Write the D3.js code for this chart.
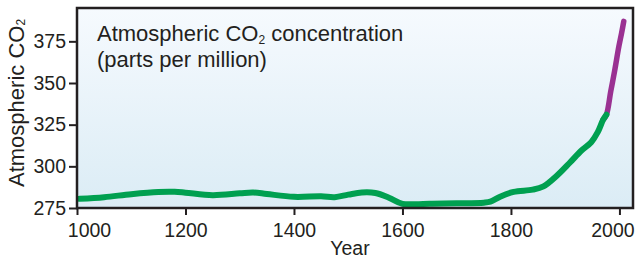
<!DOCTYPE html>
<html>
<head>
<meta charset="utf-8">
<script src="https://cdn.jsdelivr.net/npm/d3@7"></script>
<style>
  body { margin: 0; background: #fff; }
  text { font-family: "Liberation Sans", Arial, sans-serif; fill: #231f20; }
</style>
</head>
<body>
<div id="chart"></div>
<script>
// ice core record (year, ppm)
var iceYears = [1005, 1050, 1100, 1150, 1180, 1200, 1250, 1300, 1325, 1350, 1400, 1450, 1475, 1500,
                1525, 1550, 1575, 1600, 1625, 1650, 1700, 1750, 1762, 1780, 1805, 1840, 1860, 1885,
                1908, 1930, 1948, 1960, 1970, 1976];
var iceCO2 = [280.5, 281.5, 283.3, 284.6, 284.7, 284.2, 282.7, 283.8, 284.3, 283.4, 281.7, 282.0, 281.5, 283.0,
              284.3, 284.0, 281.2, 277.5, 277.3, 277.6, 277.8, 278.2, 278.8, 281.8, 284.7, 286.0, 288.0, 294.5,
              302.0, 309.5, 314.5, 320.5, 328.0, 331.0];
// direct measurements
var airYears = [1970, 1976, 1984, 1991, 1999, 2004, 2008];
var airCO2 = [328, 331, 345, 357, 372, 380, 387];

var xTicks = [1000, 1200, 1400, 1600, 1800, 2000];
var yTicks = [275, 300, 325, 350, 375];

var margin = { top: 8, right: 4, bottom: 50, left: 77 },
    width = 637 - margin.left - margin.right,
    height = 258 - margin.top - margin.bottom;

var x = d3.scaleLinear().domain([1000, 2025]).range([0, width]);
var y = d3.scaleLinear().domain([275, 395]).range([height, 0]);

var svg = d3.select("#chart").append("svg")
    .attr("width", 637)
    .attr("height", 258);

var defs = svg.append("defs");
var grad = defs.append("linearGradient")
    .attr("id", "bg")
    .attr("x1", 0).attr("y1", 0).attr("x2", 0).attr("y2", 1);
grad.append("stop").attr("offset", "0%").attr("stop-color", "#f6fafe");
grad.append("stop").attr("offset", "100%").attr("stop-color", "#dbecf5");

var g = svg.append("g")
    .attr("transform", "translate(" + margin.left + "," + margin.top + ")");

g.append("rect")
    .attr("width", width)
    .attr("height", height)
    .attr("fill", "url(#bg)");

var line = d3.line()
    .x(function(d) { return x(d[0]); })
    .y(function(d) { return y(d[1]); })
    .curve(d3.curveCatmullRom.alpha(0.5));

var air = airYears.map(function(d, i) { return [d, airCO2[i]]; });
var ice = iceYears.map(function(d, i) { return [d, iceCO2[i]]; });

g.append("path")
    .datum(air)
    .attr("d", line)
    .attr("fill", "none")
    .attr("stroke", "#9a3192")
    .attr("stroke-width", 5.5)
    .attr("stroke-linecap", "round");

g.append("path")
    .datum(ice)
    .attr("d", line)
    .attr("fill", "none")
    .attr("stroke", "#00a050")
    .attr("stroke-width", 6)
    .attr("stroke-linecap", "round");

// frame
g.append("rect")
    .attr("width", width)
    .attr("height", height)
    .attr("fill", "none")
    .attr("stroke", "#231f20")
    .attr("stroke-width", 2.5);

// axes
var xAxis = g.append("g")
    .attr("transform", "translate(0," + height + ")")
    .call(d3.axisBottom(x).tickValues(xTicks).tickFormat(d3.format("d")).tickSize(7).tickPadding(8).tickSizeOuter(0));
var yAxis = g.append("g")
    .call(d3.axisLeft(y).tickValues(yTicks).tickSize(8).tickPadding(3).tickSizeOuter(0));

[xAxis, yAxis].forEach(function(a) {
    a.select(".domain").remove();
    a.selectAll("line").attr("stroke", "#231f20").attr("stroke-width", 2);
    a.selectAll("text").attr("font-size", 19.5).attr("font-family", "Liberation Sans, Arial, sans-serif").attr("fill", "#231f20");
});
// end labels pulled inward like the original
xAxis.selectAll("text").attr("dx", function(d) { return d == 1000 ? 12 : (d == 2000 ? -7 : 0); });

// labels
svg.append("text")
    .attr("x", 350)
    .attr("y", 255)
    .attr("text-anchor", "middle")
    .attr("font-size", 19.5)
    .text("Year");

var yt = svg.append("text")
    .attr("transform", "translate(24,187) rotate(-90)")
    .attr("font-size", 22);
yt.append("tspan").text("Atmospheric CO");
yt.append("tspan").attr("font-size", 12).attr("dy", 1).text("2");

var t1 = svg.append("text")
    .attr("x", 97)
    .attr("y", 41)
    .attr("font-size", 22);
t1.append("tspan").text("Atmospheric CO");
t1.append("tspan").attr("font-size", 12).attr("dy", 3).text("2");
t1.append("tspan").attr("dy", -3).text(" concentration");

svg.append("text")
    .attr("x", 97)
    .attr("y", 67)
    .attr("font-size", 22)
    .text("(parts per million)");
</script>
</body>
</html>
